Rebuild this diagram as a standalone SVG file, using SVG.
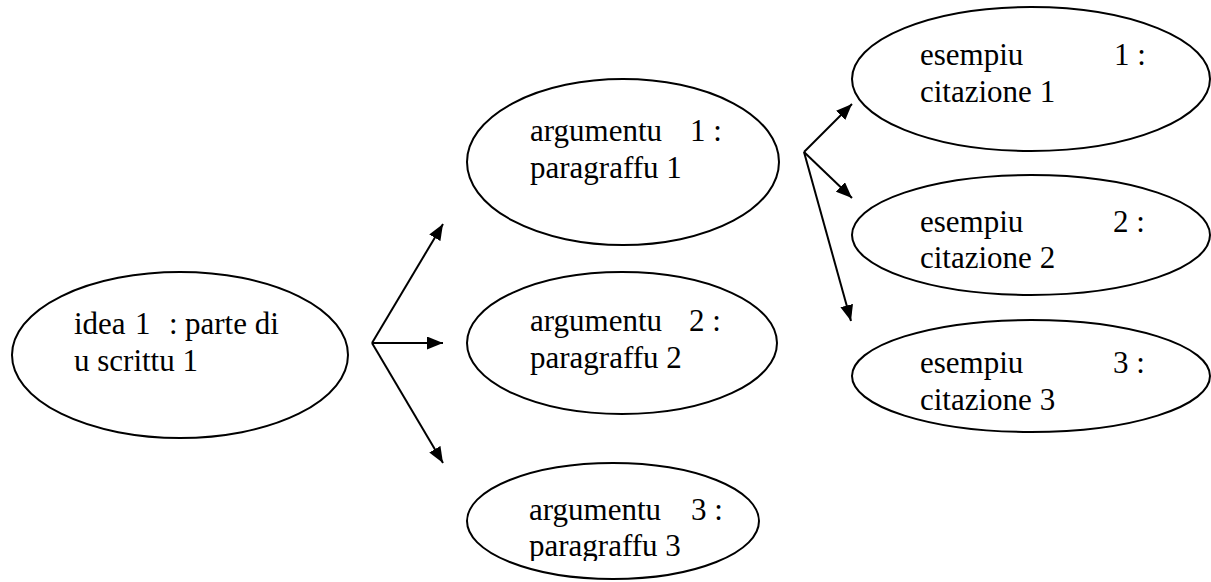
<svg xmlns="http://www.w3.org/2000/svg" width="1211" height="582" viewBox="0 0 1211 582">
<style>
.node ellipse{fill:#fff;stroke:#000;stroke-width:2}
.node text{font-family:"Liberation Serif","Times New Roman",serif;font-size:31px;fill:#000}
.conn line{stroke:#000;stroke-width:2;fill:none}
</style>
<defs>
<marker id="ah" viewBox="0 0 16 13" refX="16" refY="6.5" markerWidth="16" markerHeight="13" markerUnits="userSpaceOnUse" orient="auto"><path d="M0,0 L16,6.5 L0,13 z" fill="#000"/></marker>
<clipPath id="clip3"><rect x="460" y="460" width="320" height="101"/></clipPath>
</defs>
<rect width="1211" height="582" fill="#fff"/>
<g id="idea1" class="node">
<ellipse cx="180" cy="355" rx="168" ry="83"/>
<text><tspan x="74" y="334">idea</tspan><tspan x="135" y="334">1</tspan><tspan x="169" y="334">:</tspan><tspan x="185" y="334">parte di</tspan><tspan x="74" y="371">u scrittu 1</tspan></text>
</g>
<g id="arg1" class="node">
<ellipse cx="623" cy="162" rx="156" ry="83"/>
<text><tspan x="530" y="141">argumentu</tspan><tspan x="690" y="141">1 :</tspan><tspan x="530" y="178">paragraffu 1</tspan></text>
</g>
<g id="arg2" class="node">
<ellipse cx="622" cy="343" rx="155" ry="71"/>
<text><tspan x="530" y="331">argumentu</tspan><tspan x="689" y="331">2 :</tspan><tspan x="530" y="368">paragraffu 2</tspan></text>
</g>
<g id="arg3" class="node">
<ellipse cx="613" cy="521" rx="146" ry="58"/>
<text clip-path="url(#clip3)"><tspan x="529" y="520">argumentu</tspan><tspan x="691" y="520">3 :</tspan><tspan x="529" y="556">paragraffu 3</tspan></text>
</g>
<g id="ex1" class="node">
<ellipse cx="1031" cy="79" rx="179" ry="72"/>
<text><tspan x="920" y="65">esempiu</tspan><tspan x="1114" y="65">1 :</tspan><tspan x="920" y="102">citazione 1</tspan></text>
</g>
<g id="ex2" class="node">
<ellipse cx="1031" cy="235" rx="179" ry="60"/>
<text><tspan x="920" y="232">esempiu</tspan><tspan x="1113" y="232">2 :</tspan><tspan x="920" y="268">citazione 2</tspan></text>
</g>
<g id="ex3" class="node">
<ellipse cx="1031" cy="376" rx="179" ry="56"/>
<text><tspan x="920" y="373">esempiu</tspan><tspan x="1113" y="373">3 :</tspan><tspan x="920" y="410">citazione 3</tspan></text>
</g>
<g id="connectors" class="conn">
<line x1="372" y1="343" x2="443" y2="224" marker-end="url(#ah)"/>
<line x1="372" y1="343" x2="443" y2="343" marker-end="url(#ah)"/>
<line x1="372" y1="343" x2="443" y2="463" marker-end="url(#ah)"/>
<line x1="804" y1="152" x2="852" y2="104" marker-end="url(#ah)"/>
<line x1="804" y1="152" x2="852" y2="198" marker-end="url(#ah)"/>
<line x1="804" y1="152" x2="851" y2="321" marker-end="url(#ah)"/>
</g>
</svg>
